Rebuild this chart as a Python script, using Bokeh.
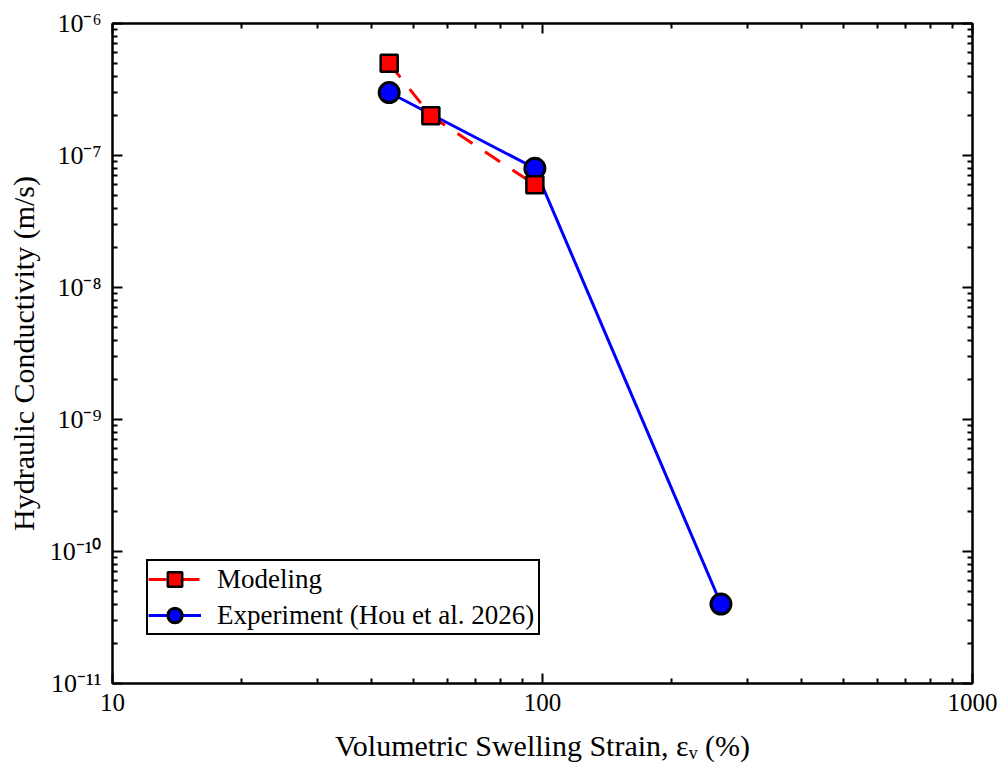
from bokeh.plotting import figure
from bokeh.models import FixedTicker, LogAxis, Legend, LegendItem
from bokeh.embed import file_html
from bokeh.resources import INLINE

# Volumetric swelling strain (%) vs. hydraulic conductivity (m/s)
model_strain = [44, 55, 96]
model_k = [5e-7, 2e-7, 6e-8]
exp_strain = [44, 96, 260]
exp_k = [3e-7, 8e-8, 4e-11]

x_ticks = [10, 100, 1000]
x_tick_labels = ["10", "100", "1000"]
y_ticks = [1e-11, 1e-10, 1e-9, 1e-8, 1e-7, 1e-6]
y_tick_labels = ["10\u207b\u00b9\u00b9", "10\u207b\u00b9\u2070", "10\u207b\u2079",
                 "10\u207b\u2078", "10\u207b\u2077", "10\u207b\u2076"]

x_title = "Volumetric Swelling Strain, \u03b5\u1d65 (%)"
y_title = "Hydraulic Conductivity (m/s)"
legend_labels = ["Modeling", "Experiment (Hou et al. 2026)"]

SERIF = "Liberation Serif"

p = figure(width=1008, height=780, x_axis_type="log", y_axis_type="log",
           x_range=(10, 1000), y_range=(1e-11, 1e-6),
           output_backend="svg", toolbar_location=None,
           min_border_left=112, min_border_right=36,
           min_border_top=23, min_border_bottom=97)
p.background_fill_color = "white"
p.border_fill_color = "white"
p.grid.visible = False
p.outline_line_color = "black"
p.outline_line_width = 2

bottom_axis = p.below[0]
left_axis = p.left[0]
top_axis = LogAxis()
right_axis = LogAxis()
p.add_layout(top_axis, "above")
p.add_layout(right_axis, "right")

x_minor = [m * d for d in (10, 100) for m in range(2, 10)]
y_minor = [m * t for t in y_ticks[:-1] for m in range(2, 10)]
x_ticker = FixedTicker(ticks=x_ticks, minor_ticks=x_minor)
y_ticker = FixedTicker(ticks=y_ticks, minor_ticks=y_minor)

for ax in (bottom_axis, top_axis):
    ax.ticker = x_ticker
for ax in (left_axis, right_axis):
    ax.ticker = y_ticker

for ax in (bottom_axis, top_axis, left_axis, right_axis):
    ax.axis_line_color = "black"
    ax.axis_line_width = 2
    ax.major_tick_line_color = "black"
    ax.major_tick_line_width = 2
    ax.minor_tick_line_color = "black"
    ax.minor_tick_line_width = 2
    ax.major_tick_in = 10
    ax.major_tick_out = 0
    ax.minor_tick_in = 5
    ax.minor_tick_out = 0
    ax.major_label_text_font = SERIF
    ax.major_label_text_color = "black"
    ax.axis_label_text_font = SERIF
    ax.axis_label_text_font_style = "normal"
    ax.axis_label_text_color = "black"

# mirrored axes carry ticks only
for ax in (top_axis, right_axis):
    ax.major_label_text_font_size = "1px"
    ax.major_label_text_alpha = 0
    ax.major_label_standoff = 0

bottom_axis.major_label_overrides = dict(zip(x_ticks, x_tick_labels))
bottom_axis.major_label_text_font_size = "25px"
bottom_axis.major_label_standoff = 10
bottom_axis.axis_label = x_title
bottom_axis.axis_label_text_font_size = "30px"
bottom_axis.axis_label_standoff = 15

left_axis.major_label_overrides = dict(zip(y_ticks, y_tick_labels))
left_axis.major_label_text_font_size = "26px"
left_axis.major_label_standoff = 11
left_axis.axis_label = y_title
left_axis.axis_label_text_font_size = "30px"
left_axis.axis_label_standoff = 7

# series
r_exp_line = p.line(exp_strain, exp_k, line_color="#0000ff", line_width=3)
r_model_line = p.line(model_strain, model_k, line_color="#ff0000", line_width=3,
                      line_dash="18 15")
r_exp_pts = p.scatter(exp_strain, exp_k, marker="circle", size=20,
                      fill_color="#0000ff", line_color="black", line_width=3)
r_model_pts = p.scatter(model_strain, model_k, marker="square", size=17,
                        fill_color="#ff0000", line_color="black", line_width=2.5)

legend = Legend(
    items=[LegendItem(label=legend_labels[0], renderers=[r_model_line, r_model_pts]),
           LegendItem(label=legend_labels[1], renderers=[r_exp_line, r_exp_pts])],
    location=(34, 48), orientation="vertical",
    glyph_width=53, glyph_height=36, label_height=36, label_width=321,
    spacing=0, padding=0, margin=0, label_standoff=16,
    label_text_font=SERIF, label_text_font_size="27px", label_text_color="black",
    label_text_baseline="middle",
    border_line_color="black", border_line_width=2, border_line_alpha=1,
    background_fill_color="white", background_fill_alpha=1,
)
p.add_layout(legend)

open("out.html", "w").write(file_html(p, INLINE))
